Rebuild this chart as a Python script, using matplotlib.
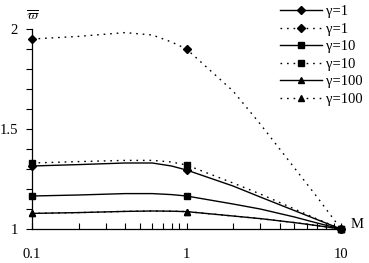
import matplotlib
matplotlib.use("Agg")
import matplotlib.pyplot as plt
from matplotlib.ticker import FixedLocator, NullFormatter

plt.rcParams['font.family'] = ['Liberation Serif', 'DejaVu Serif']
plt.rcParams['mathtext.fontset'] = 'stix'

# values (marked points at M = 0.1, 1, 10)
M = [0.1, 0.2, 0.4, 0.6, 0.8, 1, 2, 3, 5, 7, 10]
g1_solid = [1.315, 1.322, 1.33, 1.33, 1.315, 1.295, 1.215, 1.16, 1.092, 1.047, 1.0]
g1_dot = [1.95, 1.963, 1.982, 1.97, 1.935, 1.90, 1.69, 1.525, 1.305, 1.16, 1.0]
g10_solid = [1.165, 1.17, 1.177, 1.177, 1.172, 1.165, 1.125, 1.10, 1.06, 1.03, 1.0]
g10_dot = [1.33, 1.337, 1.343, 1.343, 1.335, 1.32, 1.23, 1.175, 1.10, 1.05, 1.0]
g100_solid = [1.078, 1.082, 1.088, 1.09, 1.089, 1.087, 1.065, 1.052, 1.032, 1.017, 1.0]
g100_dot = [1.078, 1.082, 1.088, 1.09, 1.089, 1.087, 1.065, 1.052, 1.032, 1.017, 1.0]
marked = [0, 5, 10]

fig = plt.figure(figsize=(3.69, 2.63), dpi=100)
ax = fig.add_axes([32 / 369, 34 / 263, 309 / 369, 200 / 263])

dots = (0, (1.2, 3.5))
series = [
    (g1_solid, "-", "D", 4, "γ=1"),
    (g1_dot, dots, "D", 4, "γ=1"),
    (g10_solid, "-", "s", 5, "γ=10"),
    (g10_dot, dots, "s", 5, "γ=10"),
    (g100_solid, "-", "^", 5, "γ=100"),
    (g100_dot, dots, "^", 5, "γ=100"),
]
for vals, ls, mk, ms, lab in series:
    ax.plot(M, vals, color="black", linestyle=ls, linewidth=1.0, marker=mk,
            markersize=ms, markevery=marked, label=lab, clip_on=False)

ax.set_xscale("log")
ax.set_xlim(0.1, 10)
ax.set_ylim(1, 2)
ax.spines["top"].set_visible(False)
ax.spines["right"].set_visible(False)
ax.spines["left"].set_linewidth(0.9)
ax.spines["bottom"].set_linewidth(0.9)

ax.xaxis.set_major_locator(FixedLocator([0.1, 1, 10]))
ax.set_xticklabels(["0.1", "1", "10"], fontsize=10.5)
ax.xaxis.set_minor_locator(FixedLocator([k * d for d in (0.1, 1) for k in range(2, 10)]))
ax.xaxis.set_minor_formatter(NullFormatter())
ax.tick_params(axis="x", which="both", direction="in", length=4, width=0.8, pad=14)

ax.yaxis.set_major_locator(FixedLocator([1, 1.5, 2]))
ax.set_yticklabels(["1", "1.5", "2"], fontsize=10.5)
ax.yaxis.set_minor_locator(FixedLocator([1.1, 1.2, 1.3, 1.4, 1.6, 1.7, 1.8, 1.9]))
ax.tick_params(axis="y", which="both", direction="out", length=4, width=0.8, pad=6)

fig.text(33 / 369, 1 - 16 / 263, r"$\overline{\varpi}$", fontsize=10, ha="center", va="center")
fig.text(351 / 369, 1 - 225 / 263, "M", fontsize=10.5, ha="left", va="center")

fig.legend(loc="upper left", bbox_to_anchor=(274 / 369, 1 + 1 / 263), frameon=False,
           fontsize=10.5, handlelength=2.9, labelspacing=0.3, handletextpad=0.3,
           borderaxespad=0.0)

fig.savefig("out.png", dpi=100)
